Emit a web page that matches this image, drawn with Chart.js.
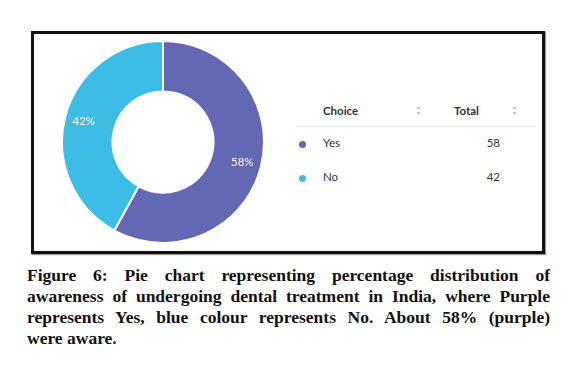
<!DOCTYPE html>
<html>
<head>
<meta charset="utf-8">
<script src="https://cdn.jsdelivr.net/npm/chart.js@4/dist/chart.umd.min.js"></script>
<style>
body{margin:0;background:#fff;width:577px;height:368px;position:relative;overflow:hidden}
#box{position:absolute;left:31px;top:31px;width:508px;height:217px;border:3px solid #111;box-shadow:1px 1px 1px #999}
#chartWrap{position:absolute;left:61px;top:40px;width:204px;height:204px}
#legend{position:absolute;left:296px;top:99px;width:240px;font-family:Lato,sans-serif;font-size:11.5px;color:#333}
.row{position:relative;height:34px}
.head{height:27px;border-bottom:1px solid #e6e6e6;font-weight:bold}
.c1{position:absolute;left:27px;top:5px}
.c2{position:absolute;right:36px;top:5px}
.c2h{position:absolute;left:158px;top:5px}
.dot{position:absolute;left:3px;top:10px;width:7px;height:7px;border-radius:50%}
.up,.down{position:absolute;font-size:5px;line-height:5px;color:#b5b5b5;font-weight:normal}
.up{top:6px}
.down{top:12px}
#caption{position:absolute;left:27px;top:265px;width:523px;font-family:"Liberation Serif",serif;font-weight:bold;font-size:17.5px;line-height:21px;color:#111}
#caption div{text-align:justify;text-align-last:justify;white-space:nowrap}
#caption div.last{text-align-last:left}
</style>
</head>
<body>
<div id="box"></div>
<div id="chartWrap"><canvas id="chart"></canvas></div>
<div id="legend"></div>
<div id="caption"></div>
<script>

let categories=["Yes","No"]
let totals=[58,42]
let colors=["#6467b1","#3dbde6"]
let headers=["Choice","Total"]
let captionLines=[
"Figure 6: Pie chart representing percentage distribution of",
"awareness of undergoing dental treatment in India, where Purple",
"represents Yes, blue colour represents No. About 58% (purple)",
"were aware."
]


// caption, one div per printed line so the breaks match
let caption=document.getElementById("caption")
captionLines.forEach((t,i)=>{
let d=document.createElement("div")
d.innerText=t
if(i==captionLines.length-1) d.className="last"
caption.appendChild(d)
})


// table legend next to the donut
let legend=document.getElementById("legend")

let head=document.createElement("div")
head.className="row head"
head.innerHTML=`
<span class="c1">${headers[0]}</span>
<span class="up" style="left:120px">▲</span><span class="down" style="left:120px">▼</span>
<span class="c2h">${headers[1]}</span>
<span class="up" style="left:216px">▲</span><span class="down" style="left:216px">▼</span>
`
legend.appendChild(head)

categories.forEach((c,i)=>{

let row=document.createElement("div")
row.className="row"
row.style.marginTop=i==0?"4px":"0"
row.innerHTML=`
<span class="dot" style="background:${colors[i]}"></span>
<span class="c1">${c}</span>
<span class="c2">${totals[i]}</span>
`
legend.appendChild(row)

})


// percent labels inside each slice
const pctLabels={
id:"pctLabels",
afterDatasetsDraw(chart){
let ctx=chart.ctx
let meta=chart.getDatasetMeta(0)
let sum=totals.reduce((a,b)=>a+b,0)
ctx.save()
ctx.fillStyle="#fff"
ctx.font="11.5px Lato, sans-serif"
ctx.textAlign="center"
ctx.textBaseline="middle"
meta.data.forEach((arc,i)=>{
let a=(arc.startAngle+arc.endAngle)/2
let r=arc.innerRadius+(arc.outerRadius-arc.innerRadius)*0.62
ctx.fillText(Math.round(totals[i]/sum*100)+"%",arc.x+Math.cos(a)*r,arc.y+Math.sin(a)*r)
})
ctx.restore()
}
}


new Chart(document.getElementById("chart"),{

type:"doughnut",

data:{
labels:categories,
datasets:[{
data:totals,
backgroundColor:colors,
borderColor:"#fff",
borderWidth:2,
hoverOffset:0
}]
},

options:{
responsive:true,
maintainAspectRatio:false,
animation:false,
cutout:"50%",
plugins:{
legend:{display:false},
tooltip:{enabled:false}
}
},

plugins:[pctLabels]

})

</script>
</body>
</html>
